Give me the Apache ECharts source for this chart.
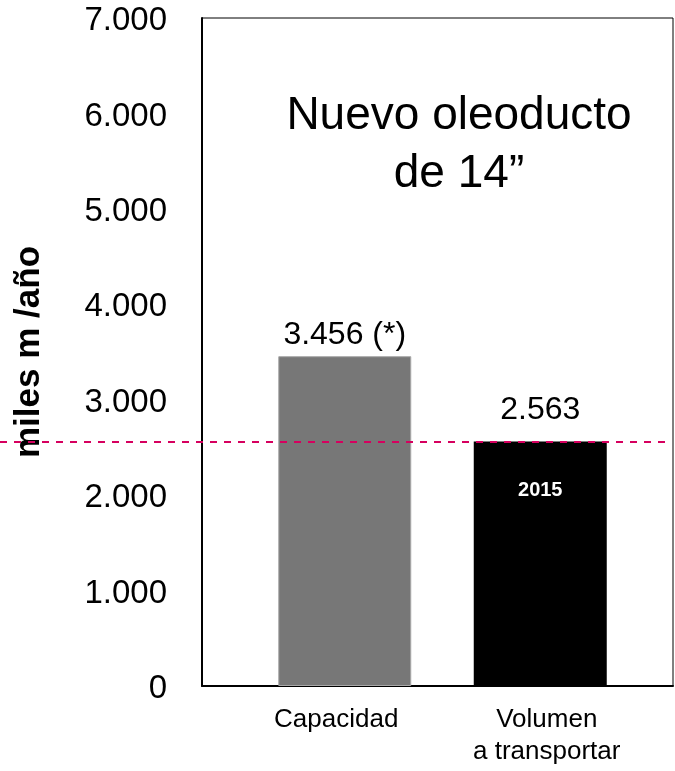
<!DOCTYPE html>
<html>
<head>
<meta charset="utf-8">
<script src="https://cdn.jsdelivr.net/npm/echarts@6/dist/echarts.min.js"></script>
<style>
  html, body { margin: 0; padding: 0; background: #fff; }
  #chart { width: 675px; height: 771px; }
</style>
</head>
<body>
<div id="chart"></div>
<script>
// datos
const categories = ['Capacidad', 'Volumen\na transportar'];
const values = [3456, 2563];
const valueLabels = ['3.456 (*)', '2.563'];
const yearLabels = ['', '2015'];
const referenceLevel = 2563;
const yMin = 0;
const yMax = 7000;
const yStep = 1000;

const font = '"Liberation Sans", Arial, sans-serif';

const chart = echarts.init(document.getElementById('chart'));

const gridBase = { top: 18, bottom: 85, outerBoundsMode: 'none', containLabel: false };

chart.setOption({
  animation: false,
  textStyle: { fontFamily: font },
  graphic: [{
    type: 'text',
    x: 459,
    y: 87,
    style: {
      text: 'Nuevo oleoducto\nde 14”',
      font: '46px ' + font,
      fill: '#000',
      align: 'center',
      verticalAlign: 'top',
      lineHeight: 58
    }
  }],
  grid: [
    // caja con eje y
    Object.assign({ left: 202, right: 2, show: true, borderColor: '#000', borderWidth: 1 }, gridBase),
    // barras
    Object.assign({ left: 247, right: 37 }, gridBase),
    // línea de referencia a todo el ancho
    Object.assign({ left: 0, right: 3 }, gridBase),
    // etiquetas de categoría (algo desplazadas respecto a las barras)
    Object.assign({ left: 231, right: 23 }, gridBase)
  ],
  xAxis: [{
    type: 'value', gridIndex: 0, min: 0, max: 1, show: true,
    axisLine: { show: true, onZero: false, lineStyle: { color: '#000', width: 2 } },
    axisTick: { show: false }, axisLabel: { show: false }, splitLine: { show: false }
  }, {
    type: 'category', gridIndex: 1, data: categories,
    axisLine: { show: false }, axisTick: { show: false }, axisLabel: { show: false }
  }, {
    type: 'value', gridIndex: 2, min: 0, max: 1, show: false
  }, {
    type: 'category', gridIndex: 3, data: categories,
    axisLine: { show: false }, axisTick: { show: false },
    axisLabel: { color: '#000', fontSize: 26, lineHeight: 32, margin: 18 }
  }],
  yAxis: [{
    type: 'value', gridIndex: 0, min: yMin, max: yMax, interval: yStep,
    name: 'miles m /año', nameLocation: 'middle', nameGap: 155,
    nameTextStyle: { color: '#000', fontSize: 35, fontWeight: 'bold' },
    axisLine: { show: true, lineStyle: { color: '#000', width: 2 } },
    axisTick: { show: false }, splitLine: { show: false },
    axisLabel: {
      color: '#000', fontSize: 33, margin: 35,
      verticalAlign: 'top', lineHeight: 6,
      formatter: v => String(v).replace(/\B(?=(\d{3})+(?!\d))/g, '.')
    }
  }, {
    type: 'value', gridIndex: 1, min: yMin, max: yMax, show: false
  }, {
    type: 'value', gridIndex: 2, min: yMin, max: yMax, show: false
  }, {
    type: 'value', gridIndex: 3, min: yMin, max: yMax, show: false
  }],
  series: [{
    name: 'valor',
    type: 'bar',
    xAxisIndex: 1, yAxisIndex: 1,
    barWidth: 133,
    data: values.map((v, i) => ({
      value: v,
      itemStyle: i === 0
        ? { color: '#777777', borderColor: '#a8a8a8', borderWidth: 1 }
        : { color: '#000000' },
      label: {
        show: true, position: 'top',
        distance: i === 0 ? 5 : 15,
        formatter: valueLabels[i],
        color: '#000', fontSize: 32
      }
    }))
  }, {
    name: 'año',
    type: 'bar',
    xAxisIndex: 1, yAxisIndex: 1,
    barWidth: 133, barGap: '-100%',
    itemStyle: { color: 'transparent' },
    data: values.map((v, i) => ({
      value: yearLabels[i] ? v : null,
      label: {
        show: !!yearLabels[i], position: 'insideTop', distance: 39,
        formatter: yearLabels[i],
        color: '#fff', fontSize: 20, fontWeight: 'bold'
      }
    }))
  }, {
    name: 'referencia',
    type: 'line',
    xAxisIndex: 2, yAxisIndex: 2,
    data: [],
    z: 5,
    markLine: {
      silent: true,
      symbol: 'none',
      label: { show: false },
      lineStyle: { color: '#d6005f', type: [7, 7], width: 2 },
      data: [{ yAxis: referenceLevel }]
    }
  }]
});
</script>
</body>
</html>
